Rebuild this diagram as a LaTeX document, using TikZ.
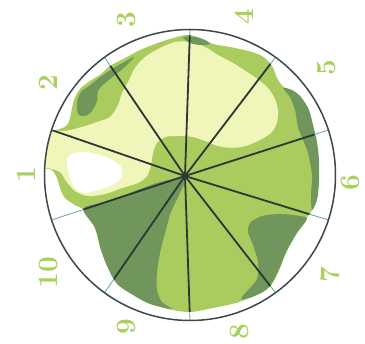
\documentclass[tikz,border=0pt]{standalone}
\definecolor{pale}{RGB}{240,246,186}
\definecolor{grn}{RGB}{170,204,95}
\definecolor{dk}{RGB}{112,150,92}
\definecolor{lblg}{RGB}{168,208,92}
\definecolor{spk}{RGB}{45,55,52}
\definecolor{teal}{RGB}{95,165,160}
\definecolor{rim}{RGB}{60,72,72}
\tikzset{
  lbl/.style={text=lblg, rotate=90, inner sep=0pt, font=\fontsize{28}{28}\selectfont\bfseries},
  spokein/.style={draw=spk, line width=1.8pt},
  spokeout/.style={draw=teal, line width=0.8pt},
  rimline/.style={draw=rim, line width=1.5pt}
}
\begin{document}
\begin{tikzpicture}[x=1pt,y=-1pt]
\useasboundingbox (0,0) rectangle (365,344);
\coordinate (C) at (190,175);
\coordinate (H) at (185,176);
\coordinate (E1) at (190,29.5);
\coordinate (E2) at (104.5,57.3);
\coordinate (E3) at (51.6,130.0);
\coordinate (E4) at (51.6,220.0);
\coordinate (E5) at (104.5,292.7);
\coordinate (E6) at (190,320.5);
\coordinate (E7) at (275.5,292.7);
\coordinate (E8) at (328.4,220.0);
\coordinate (E9) at (328.4,130.0);
\coordinate (E10) at (275.5,57.3);
\begin{scope}
\clip (C) circle [radius=145.5];
% main blob
\fill[grn] plot[smooth cycle, tension=0.55] coordinates {
 (187,35) (200,38) (213,44) (230,47) (248,51) (262,56) (272,66) (278,80) (286,89)
 (298,96) (307,108) (312,125) (316,142) (318,160) (318,182) (316,200) (311,212)
 (303,222) (294,238) (286,253) (280,268) (274,281) (266,290) (252,297) (236,303)
 (213,308) (190,312) (168,309) (150,303) (133,294) (117,283) (108,268) (101,250)
 (95,228) (87,212) (75,205) (65,198) (60,188) (57,178) (52,170) (42,165) (40,135)
 (60,129) (68,124) (71,113) (74,100) (80,89) (90,81) (101,74) (110,66) (125,58)
 (140,50) (155,44) (170,39)};
% pale region
\fill[pale] plot[smooth cycle, tension=0.55] coordinates {
 (40,132) (65,131) (85,126) (97,122) (110,117) (118,105) (122,93) (128,82) (135,68)
 (145,57) (160,48) (175,42) (190,42) (205,47) (218,55) (233,63) (250,74) (265,85)
 (274,97) (278,110) (277,122) (272,132) (260,140) (242,147) (222,147) (205,141)
 (193,137) (180,136) (165,137) (157,143) (153,153) (151,165) (147,176) (138,183)
 (122,188) (105,194) (88,196) (75,191) (66,181) (60,172) (48,168) (40,166)};
% white spot
\fill[white] plot[smooth cycle, tension=0.6] coordinates {
 (68,157) (82,152) (100,155) (112,160) (121,167) (122,176) (114,184) (98,190)
 (84,193) (74,187) (69,174)};
% dark lower-left
\fill[dk] plot[smooth cycle, tension=0.5] coordinates {
 (83,209) (100,203) (120,197) (140,189) (160,182) (185,178) (180,193) (171,212)
 (165,233) (160,253) (157,273) (157,290) (162,302) (172,309) (150,304) (133,295)
 (117,284) (108,268) (101,250) (95,228)};
% dark right-lower patch
\fill[dk] plot[smooth cycle, tension=0.5] coordinates {
 (250,223) (262,216) (280,214) (300,216) (307,219) (297,233) (287,250) (280,267)
 (273,281) (266,290) (252,297) (241,299) (248,290) (257,279) (258,262) (253,245)
 (248,232)};
% dark right edge band
\fill[dk] plot[smooth cycle, tension=0.5] coordinates {
 (283,88) (292,90) (301,97) (309,110) (313,125) (317,142) (319,160) (319,182)
 (317,200) (312,210) (311,195) (312,175) (308,153) (303,140) (298,127) (295,110)
 (290,97)};
% dark upper-left
\fill[dk] plot[smooth cycle, tension=0.5] coordinates {
 (78,114) (77,102) (81,92) (89,86) (99,78) (112,69) (126,61) (134,57) (127,65)
 (115,75) (104,84) (98,91) (97,101) (92,111) (85,116)};
% dark top patch
\fill[dk] plot[smooth cycle, tension=0.5] coordinates {
 (183,37) (195,37) (205,40) (210,44) (200,45) (190,43)};
% outer spokes (teal)
\foreach \e in {E1,E2,E3,E4,E5,E6,E7,E8,E9,E10} \draw[spokeout] (H) -- (\e);
% inner spokes clipped to blob
\begin{scope}
\clip plot[smooth cycle, tension=0.55] coordinates {
 (187,35) (200,38) (213,44) (230,47) (248,51) (262,56) (272,66) (278,80) (286,89)
 (298,96) (307,108) (312,125) (316,142) (318,160) (318,182) (316,200) (311,212)
 (303,222) (294,238) (286,253) (280,268) (274,281) (266,290) (252,297) (236,303)
 (213,308) (190,312) (168,309) (150,303) (133,294) (117,283) (108,268) (101,250)
 (95,228) (87,212) (75,205) (65,198) (60,188) (57,178) (52,170) (42,165) (40,135)
 (60,129) (68,124) (71,113) (74,100) (80,89) (90,81) (101,74) (110,66) (125,58)
 (140,50) (155,44) (170,39)};
\foreach \e in {E1,E2,E3,E4,E5,E6,E7,E8,E9,E10} \draw[spokein] (H) -- (\e);
\end{scope}
\end{scope}
\draw[rimline] (C) circle [radius=145.5];
\fill[spk] (H) circle [radius=3.2];
% labels
\node[lbl] (l1) at (26,175) {1};
\node[lbl] (l2) at (48,83) {2};
\node[lbl] (l3) at (126,20) {3};
\node[lbl] (l4) at (244,17) {4};
\node[lbl] (l5) at (326,68) {5};
\node[lbl] (l6) at (350,183) {6};
\node[lbl] (l7) at (330,275) {7};
\node[lbl] (l8) at (239,332) {8};
\node[lbl] (l9) at (126,327) {9};
\node[lbl] (l10) at (48,273) {10};
\end{tikzpicture}
\end{document}
